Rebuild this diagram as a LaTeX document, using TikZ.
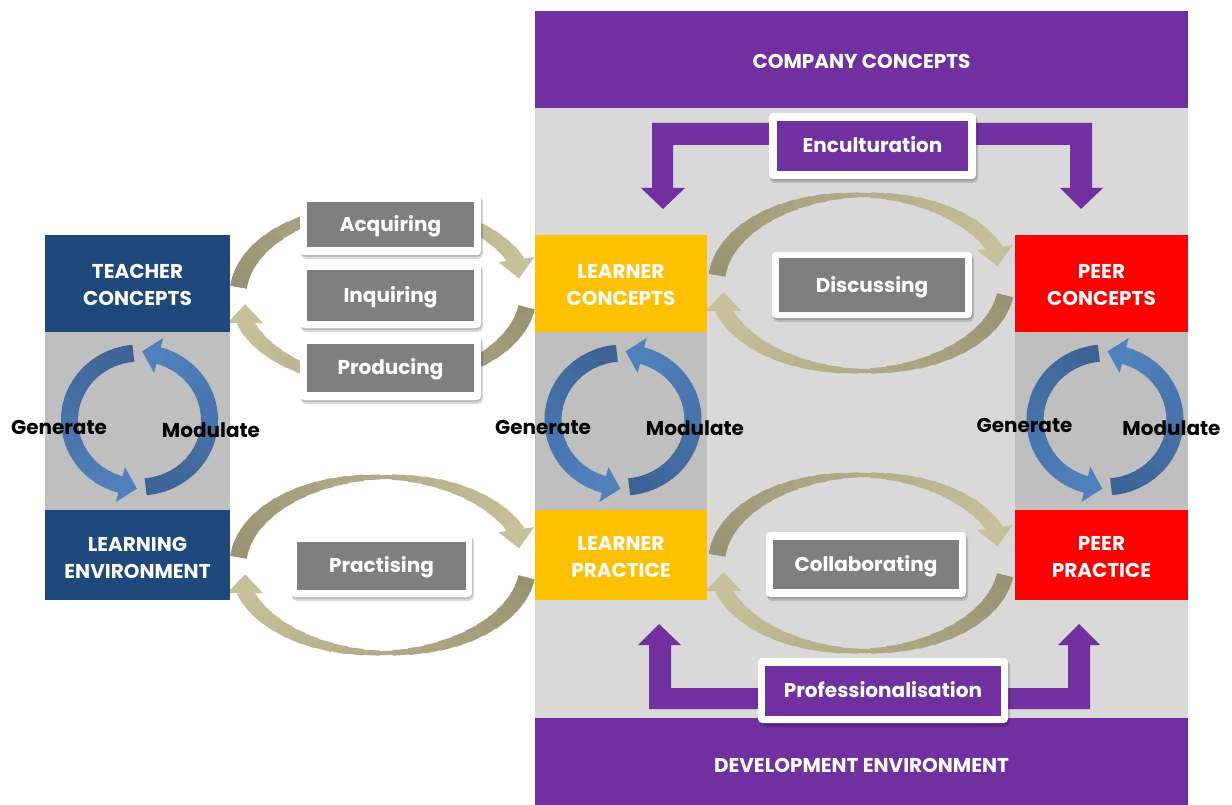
\documentclass[tikz,border=0pt]{standalone}
\usepackage{fontspec}
\setmainfont{Poppins}
\definecolor{tblue}{HTML}{1F497D}
\definecolor{lyellow}{HTML}{FFC000}
\definecolor{pred}{HTML}{FF0000}
\definecolor{purp}{HTML}{7030A0}
\definecolor{labgray}{HTML}{7F7F7F}
\definecolor{bggray}{HTML}{D9D9D9}
\definecolor{midgray}{HTML}{BFBFBF}
\definecolor{tanD}{HTML}{999373}
\definecolor{tanL}{HTML}{C8C09A}
\definecolor{blueD}{HTML}{3D6395}
\definecolor{blueL}{HTML}{4F81BD}
\tikzset{
  colbox/.style={inner sep=0pt},
  coltext/.style={inner sep=0pt, text=white, font=\bfseries\fontsize{20}{27}\selectfont, align=center},
  outerlab/.style={fill=white, rounded corners=4pt, inner sep=0pt},
  labshadow/.style={fill=black, opacity=0.14, rounded corners=5pt},
  innerlab/.style={inner sep=0pt, text=white, text height=14pt, text depth=0pt, font=\bfseries\fontsize{20}{24}\selectfont},
  gm/.style={inner sep=0pt, text=black, font=\bfseries\fontsize{20}{24}\selectfont},
  purparrow/.style={fill=purp},
}
% gradient arc with arrow head; params via \GRx \GRy \GWmin \GWmax \GHw \GHl \GHoff
\newcommand\gradarc[6]{%
  \foreach \gi in {0,...,23}{%
    \pgfmathsetmacro\gsa{#3+(#4-#3)*\gi/24}%
    \pgfmathsetmacro\gsb{#3+(#4-#3)*(\gi+1.2)/24}%
    \pgfmathsetmacro\gw{\GWmin+(\GWmax-\GWmin)*abs(cos((\gsa+\gsb)/2))}%
    \pgfmathtruncatemacro\gp{100*\gi/23}%
    \pgfmathsetmacro\gxa{#1+\GRx*cos(\gsa)}%
    \pgfmathsetmacro\gya{#2+\GRy*sin(\gsa)}%
    \draw[line width=\gw pt, draw=#6!\gp!#5] (\gxa,\gya) arc[start angle=\gsa, end angle=\gsb, x radius=\GRx, y radius=\GRy];
  }%
  \pgfmathsetmacro\gs{sign(#4-#3)}%
  \pgfmathsetmacro\gpx{#1+\GRx*cos(#4)}%
  \pgfmathsetmacro\gpy{#2+\GRy*sin(#4)}%
  \pgfmathsetmacro\gta{#4+\gs*\GHoff}%
  \pgfmathsetmacro\gdx{\gs*(0-\GRx*sin(\gta))}%
  \pgfmathsetmacro\gdy{\gs*\GRy*cos(\gta)}%
  \pgfmathsetmacro\gdl{sqrt(\gdx*\gdx+\gdy*\gdy)}%
  \pgfmathsetmacro\gux{\gdx/\gdl}%
  \pgfmathsetmacro\guy{\gdy/\gdl}%
  \pgfmathsetmacro\gax{\gpx-\gux-0.5*\GHw*\guy}%
  \pgfmathsetmacro\gay{\gpy-\guy+0.5*\GHw*\gux}%
  \pgfmathsetmacro\gbx{\gpx-\gux+0.5*\GHw*\guy}%
  \pgfmathsetmacro\gby{\gpy-\guy-0.5*\GHw*\gux}%
  \pgfmathsetmacro\gcx{\gpx+\GHl*\gux}%
  \pgfmathsetmacro\gcy{\gpy+\GHl*\guy}%
  \fill[#6] (\gax,\gay) -- (\gcx,\gcy) -- (\gbx,\gby) -- cycle;
}
\newcommand\tanloop[2]{%
  \def\GRx{145}\def\GRy{88}\def\GWmin{4}\def\GWmax{17}\def\GHw{36}\def\GHl{18}\def\GHoff{18}%
  \gradarc{#1}{#2}{185}{337}{tanD}{tanL}%
  \gradarc{#1}{#2}{8}{162}{tanD}{tanL}%
}
\newcommand\bluecycle[1]{%
  \def\GRx{70}\def\GRy{67}\def\GWmin{17}\def\GWmax{17}\def\GHw{36}\def\GHl{16}\def\GHoff{0}%
  \gradarc{#1}{420}{265}{105}{blueD}{blueL}%
  \gradarc{#1}{420}{85}{-75}{blueD}{blueL}%
}
% label box: name, cx, cy, outer w, outer h, inner w, inner h, fill, text
\newcommand\labelbox[9]{%
  \pgfmathsetmacro\lbxa{#2-#4/2}\pgfmathsetmacro\lbxb{#2+#4/2}%
  \pgfmathsetmacro\lbya{#3-#5/2}\pgfmathsetmacro\lbyb{#3+#5/2}%
  \fill[labshadow] (\lbxa+1,\lbya+2.5) rectangle (\lbxb+2,\lbyb+4);
  \fill[labshadow] (\lbxa+0.5,\lbya+1.5) rectangle (\lbxb+1,\lbyb+2);
  \node[outerlab, minimum width=#4pt, minimum height=#5pt] (#1o) at (#2,#3) {};
  \node[innerlab, fill=#8, minimum width=#6pt, minimum height=#7pt] (#1) at (#2,#3) {#9};
}
\begin{document}
\begin{tikzpicture}[x=1pt,y=-1pt]
\useasboundingbox (0,0) rectangle (1232,805);
% backgrounds
\fill[bggray] (535,108) rectangle (1188,718);
\fill[midgray] (45,332) rectangle (230,510);
\fill[midgray] (535,332) rectangle (707,510);
\fill[midgray] (1015,332) rectangle (1188,510);
% tan loops
\tanloop{383}{295}
\tanloop{383}{565}
\tanloop{861.5}{283}
\tanloop{861.5}{563}
% blue cycles
\bluecycle{139.5}
\bluecycle{623}
\bluecycle{1105}
% bands
\node[colbox, fill=purp, minimum width=653pt, minimum height=97pt] (cc) at (861.5,60) {};
\node[coltext] (cct) at (861.5,61.5) {COMPANY CONCEPTS};
\node[colbox, fill=purp, minimum width=653pt, minimum height=87pt] (de) at (861.5,761.5) {};
\node[coltext] (det) at (861.5,765) {DEVELOPMENT ENVIRONMENT};
% column boxes
\node[colbox, fill=tblue, minimum width=185pt, minimum height=97pt] (tc) at (137.5,283.5) {};
\node[coltext] (tct) at (137.5,285) {TEACHER\\CONCEPTS};
\node[colbox, fill=tblue, minimum width=185pt, minimum height=90pt] (le) at (137.5,555) {};
\node[coltext] (let) at (137.5,557.5) {LEARNING\\ENVIRONMENT};
\node[colbox, fill=lyellow, minimum width=172pt, minimum height=97pt] (lc) at (621,283.5) {};
\node[coltext] (lct) at (621,285) {LEARNER\\CONCEPTS};
\node[colbox, fill=lyellow, minimum width=172pt, minimum height=90pt] (lp) at (621,555) {};
\node[coltext] (lpt) at (621,557.5) {LEARNER\\PRACTICE};
\node[colbox, fill=pred, minimum width=173pt, minimum height=97pt] (pc) at (1101.5,283.5) {};
\node[coltext] (pct) at (1101.5,285) {PEER\\CONCEPTS};
\node[colbox, fill=pred, minimum width=173pt, minimum height=90pt] (pp) at (1101.5,555) {};
\node[coltext] (ppt) at (1101.5,557.5) {PEER\\PRACTICE};
% purple bent arrows
\fill[purparrow] (652,123) -- (1092,123) -- (1092,188) -- (1103,188) -- (1081,209) -- (1060,188) -- (1070,188) -- (1070,145) -- (673,145) -- (673,188) -- (685,188) -- (663,209) -- (641,188) -- (652,188) -- cycle;
\fill[purparrow] (649,709) -- (1090,709) -- (1090,645) -- (1100,645) -- (1079,624) -- (1058,645) -- (1068,645) -- (1068,688) -- (671,688) -- (671,645) -- (681,645) -- (659,624) -- (638,645) -- (649,645) -- cycle;
% label boxes
\labelbox{acq}{390.5}{224.5}{181}{61}{167}{45}{labgray}{Acquiring}
\labelbox{inq}{390.5}{295.5}{181}{65}{167}{51}{labgray}{Inquiring}
\labelbox{pro}{390.5}{367.5}{181}{65}{167}{48}{labgray}{Producing}
\labelbox{pra}{381.5}{565.5}{181}{63}{169}{48}{labgray}{Practising}
\labelbox{dis}{872}{285}{200}{66}{186}{53}{labgray}{Discussing}
\labelbox{col}{866}{564.5}{200}{65}{186}{49}{labgray}{Collaborating}
\labelbox{enc}{872.5}{146}{207}{66}{191}{50}{purp}{Enculturation}
\labelbox{prof}{883}{690.5}{250}{65}{236}{50}{purp}{Professionalisation}
% generate / modulate
\node[gm] (g1) at (59,427) {Generate};
\node[gm] (m1) at (211,430) {Modulate};
\node[gm] (g2) at (543,427) {Generate};
\node[gm] (m2) at (695,428) {Modulate};
\node[gm] (g3) at (1024.5,425) {Generate};
\node[gm] (m3) at (1171.5,428) {Modulate};
\end{tikzpicture}
\end{document}
